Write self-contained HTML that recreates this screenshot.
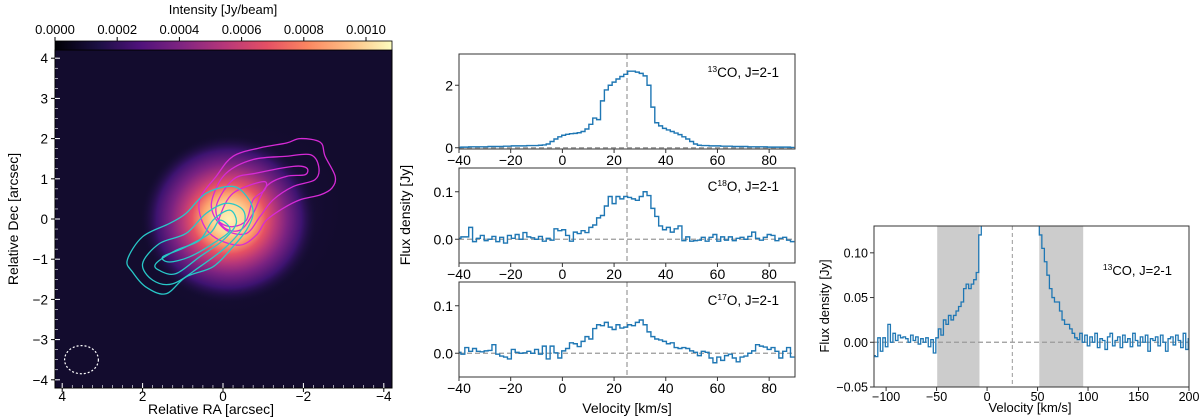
<!DOCTYPE html>
<html><head><meta charset="utf-8"><style>
body{margin:0;background:#fff;}
svg{display:block;font-family:"Liberation Sans","DejaVu Sans",sans-serif;}
</style></head><body>
<svg id="fig" width="1200" height="417" viewBox="0 0 1200 417" xmlns="http://www.w3.org/2000/svg">
<defs>
<linearGradient id="magma" x1="0" x2="1" y1="0" y2="0">
<stop offset="0" stop-color="#000004"/><stop offset="0.13" stop-color="#1c1044"/><stop offset="0.25" stop-color="#4f127b"/><stop offset="0.38" stop-color="#812581"/><stop offset="0.5" stop-color="#b5367a"/><stop offset="0.63" stop-color="#e55064"/><stop offset="0.75" stop-color="#fb8761"/><stop offset="0.88" stop-color="#fec287"/><stop offset="1" stop-color="#fcfdbf"/>
</linearGradient>
<radialGradient id="blob">
<stop offset="0" stop-color="#fdf2b8"/><stop offset="0.18" stop-color="#fdd798"/><stop offset="0.3" stop-color="#fca06c"/><stop offset="0.42" stop-color="#e55064"/><stop offset="0.53" stop-color="#b5367a"/><stop offset="0.66" stop-color="#7a2281"/><stop offset="0.82" stop-color="#3d1370"/><stop offset="1" stop-color="#140d33" stop-opacity="0"/>
</radialGradient>
<radialGradient id="halo">
<stop offset="0" stop-color="#3a1468" stop-opacity="0.8"/><stop offset="1" stop-color="#140d33" stop-opacity="0"/>
</radialGradient>
<clipPath id="clipImg"><rect x="55" y="50" width="337" height="338"/></clipPath>
</defs>
</svg>
<script>
// ===== data =====
const cbTicks=[0,0.0002,0.0004,0.0006,0.0008,0.0010];
const cbLabels=["0.0000","0.0002","0.0004","0.0006","0.0008","0.0010"];
const imgTicksX=[4,2,0,-2,-4];
const imgTicksY=[4,3,2,1,0,-1,-2,-3,-4];
const peakRA=-0.15, peakDec=0.0, peakRadius=2.2;
const beam=[3.52,-3.5,0.42,0.35];
const magenta1=[[0.58,0.48],[0.17,1.06],[-0.25,1.56],[-0.92,1.77],[-1.58,1.89],[-1.92,2.0],[-2.42,1.91],[-2.54,1.56],[-2.79,1.06],[-2.71,0.77],[-2.42,0.6],[-1.92,0.48],[-1.5,0.27],[-1.08,-0.03],[-0.83,-0.4],[-0.42,-0.65],[0.17,-0.48],[0.5,-0.11]];
const magenta2=[[0.25,0.56],[-0.08,1.14],[-0.75,1.48],[-1.58,1.56],[-2.17,1.6],[-2.38,1.31],[-2.29,0.98],[-1.75,0.81],[-1.25,0.48],[-0.92,0.06],[-0.58,-0.36],[-0.08,-0.28],[0.25,0.14]];
const magenta3=[[0.17,0.31],[-0.25,0.98],[-0.83,1.14],[-1.75,1.31],[-2.08,1.27],[-2.04,1.1],[-1.58,1.06],[-1.08,0.81],[-0.75,0.14],[-0.42,-0.28],[0,-0.19]];
const magenta4=[[0.08,0.06],[-0.25,0.64],[-1.0,0.93],[-1.04,0.73],[-0.75,0.48],[-0.58,-0.03],[-0.25,-0.19],[0.04,-0.11]];
const cyan1=[[2.38,-1.02],[2.0,-0.44],[1.33,-0.11],[0.92,0.14],[0.42,0.64],[-0.25,0.81],[-0.62,0.52],[-0.75,0.14],[-0.58,-0.28],[-0.25,-0.69],[0.25,-1.19],[0.92,-1.44],[1.42,-1.86],[1.92,-1.69],[2.25,-1.32]];
const cyan2=[[2.0,-1.11],[1.58,-0.61],[0.92,-0.36],[0.42,0.14],[-0.08,0.39],[-0.5,0.22],[-0.5,-0.19],[-0.08,-0.69],[0.58,-1.19],[1.25,-1.61],[1.75,-1.52]];
const cyan3=[[1.67,-1.11],[1.17,-0.78],[0.58,-0.53],[0.25,-0.03],[-0.17,0.22],[-0.33,-0.11],[0,-0.53],[0.58,-0.94],[1.17,-1.36],[1.58,-1.28]];
const cyan4=[[1.5,-0.94],[1.0,-0.73],[0.33,-0.36],[0.08,-0.03],[-0.17,-0.28],[0.25,-0.61],[0.83,-0.94],[1.33,-1.07]];

const specV0=-40, specDV=1.5;
const co13=[.01,.02,.02,.03,.03,.03,.03,.03,.04,.04,.04,.04,.05,.05,.06,.06,.06,.06,.07,.07,.07,.08,.09,.12,.2,.28,.35,.4,.43,.45,.46,.48,.52,.6,.75,.95,.9,1.5,1.85,2.0,2.1,2.2,2.28,2.35,2.45,2.45,2.42,2.38,2.3,2.0,1.3,.8,.7,.62,.57,.52,.47,.42,.35,.28,.2,.12,.08,.07,.07,.06,.06,.06,.05,.05,.05,.04,.04,.04,.04,.03,.03,.03,.03,.03,.02,.02,.02,.02,.02,.02,.01];
const c18o=[.002,.005,.005,.025,-.005,.002,.008,-.003,.0,.006,-.005,.004,-.008,.008,.002,.01,.0,.014,.005,.003,.0,.006,-.004,.002,-.002,.022,.018,.02,.008,-.004,.015,.012,.018,.014,.025,.03,.045,.05,.07,.09,.075,.09,.085,.09,.088,.085,.082,.09,.1,.092,.065,.048,.028,.02,.025,.015,.022,.028,-.003,.005,-.004,-.003,-.002,.004,-.004,.004,.01,-.004,.005,-.002,.005,-.003,.002,.004,.0,.006,.015,.002,-.002,.004,.01,.008,-.003,.002,.004,-.002,-.005];
const c17o=[.002,-.002,.012,.004,.01,.004,.003,.005,.006,.018,-.002,-.006,-.008,-.012,.008,.002,.0,.001,.004,.0,.008,-.002,.015,-.012,.015,.001,-.01,.005,.01,.022,.02,.014,.025,.035,.03,.052,.06,.058,.065,.055,.05,.06,.053,.055,.06,.058,.065,.07,.06,.045,.035,.03,.028,.025,.02,.022,.012,.01,.012,.01,.005,.002,-.005,.004,.002,-.01,-.02,-.008,-.015,-.005,-.002,-.01,-.018,-.008,-.006,.0,.005,.018,.015,.013,.008,.012,.004,-.01,.004,.012,-.008];

const wideV0=-112, wideDV=2.5;
const wide=[-.015,-.016,.005,-.01,.005,-.005,.02,.0,.01,.002,.008,.005,.006,.004,.0,.008,.002,.006,-.002,.004,.0,.005,-.005,.003,-.012,
 .005,.015,.008,.025,.02,.03,.025,.03,.035,.04,.045,.06,.065,.06,.065,.07,.078,.12,.3,.5,.6,.8,.9,1.0,1.2,1.4,1.8,2.0,2.2,2.3,2.45,2.42,2.38,2.1,1.2,.7,.6,.5,.42,.3,.18,
 .12,.105,.09,.075,.06,.05,.045,.045,.035,.025,.02,.02,.015,.01,.005,.003,.01,.0,
 .008,-.004,.006,.0,.01,-.006,.004,.002,-.008,.006,.01,-.004,.002,.006,-.006,.008,.0,.004,-.005,.01,.002,-.004,.006,.0,.008,-.01,.004,.002,.006,-.004,.008,.0,-.01,.004,.006,-.003,.008,.002,-.006,.01,-.008,.004];
const wideBands=[[-49.4,-7.5],[51.7,95.2]];
const specTicksX=[-40,-20,0,20,40,60,80];
const wideTicksX=[-100,-50,0,50,100,150,200];
const wideTicksY=[-0.05,0,0.05,0.10];
const wideTickLabelsY=["\u22120.05","0.00","0.05","0.10"];

// ===== drawing helpers =====
const NS="http://www.w3.org/2000/svg";
const svg=document.getElementById('fig');
function el(tag,attrs,parent,text){const e=document.createElementNS(NS,tag);for(const k in attrs)e.setAttribute(k,attrs[k]);if(text!==undefined)e.textContent=text;(parent||svg).appendChild(e);return e;}
function fmt(v){return (v<0?"\u2212":"")+Math.abs(v);}

// ===== image panel =====
const ix=ra=>223-ra*40.2, iy=dec=>219-dec*40.2;
const img=el('g',{'clip-path':'url(#clipImg)'});


el('rect',{x:55,y:50,width:337,height:338,fill:'#130c2e'},img);
el('ellipse',{cx:ix(peakRA)+10,cy:iy(peakDec)+6,rx:110,ry:95,fill:'url(#halo)',transform:`rotate(-30 ${ix(peakRA)} ${iy(peakDec)})`},img);
el('ellipse',{cx:ix(peakRA),cy:iy(peakDec),rx:peakRadius*40.2,ry:peakRadius*40.2*0.95,fill:'url(#blob)'},img);
function smoothPath(pts){const p=pts.map(q=>[ix(q[0]),iy(q[1])]);const n=p.length;let d=`M${p[0][0]},${p[0][1]}`;for(let i=0;i<n;i++){const p0=p[(i-1+n)%n],p1=p[i],p2=p[(i+1)%n],p3=p[(i+2)%n];d+=`C${p1[0]+(p2[0]-p0[0])/6},${p1[1]+(p2[1]-p0[1])/6} ${p2[0]-(p3[0]-p1[0])/6},${p2[1]-(p3[1]-p1[1])/6} ${p2[0]},${p2[1]}`;}return d+'Z';}
[[magenta1,'#d62ad6'],[magenta2,'#d62ad6'],[magenta3,'#d62ad6'],[magenta4,'#d62ad6'],[cyan1,'#28c8c8'],[cyan2,'#28c8c8'],[cyan3,'#28c8c8'],[cyan4,'#28c8c8']].forEach(([c,col],i)=>{
 const pth=el('path',{d:smoothPath(c),fill:'none',stroke:col,'stroke-width':1.3},img);
 
 
});
const bm=el('ellipse',{cx:ix(beam[0]),cy:iy(beam[1]),rx:beam[2]*40.2,ry:beam[3]*40.2,fill:'none',stroke:'#fff','stroke-width':1.2,'stroke-dasharray':'2,2'},img);


el('rect',{x:55,y:50,width:337,height:338,fill:'none',stroke:'#000','stroke-width':1});
imgTicksX.forEach(t=>{
 el('line',{x1:ix(t),x2:ix(t),y1:388,y2:383,stroke:'#fff'});
 el('line',{x1:ix(t),x2:ix(t),y1:388,y2:392,stroke:'#000'});
 const lx=el('text',{x:ix(t),y:401,'font-size':13.5,'text-anchor':'middle'},svg,fmt(t));
 
});
imgTicksY.forEach(t=>{
 el('line',{x1:55,x2:60,y1:iy(t),y2:iy(t),stroke:'#fff'});
 el('line',{x1:51,x2:55,y1:iy(t),y2:iy(t),stroke:'#000'});
 const ly=el('text',{x:48,y:iy(t)+5,'font-size':13.5,'text-anchor':'end'},svg,fmt(t));
 
});
for(let t=-4;t<=4;t+=0.25){el('line',{x1:ix(t),x2:ix(t),y1:388,y2:385,stroke:'#fff','stroke-width':0.6});el('line',{x1:55,x2:58,y1:iy(t),y2:iy(t),stroke:'#fff','stroke-width':0.6});}
let tt=el('text',{x:211,y:414,'font-size':14,'text-anchor':'middle'},svg,'Relative RA [arcsec]');

tt=el('text',{x:0,y:0,'font-size':14,'text-anchor':'middle',transform:'translate(18,219) rotate(-90)'},svg,'Relative Dec [arcsec]');

const cbx=v=>55+v*311000;
const cb=el('rect',{x:55,y:41,width:337,height:9,fill:'url(#magma)',stroke:'#000','stroke-width':0.8});

cbTicks.forEach((t,i)=>{el('line',{x1:cbx(t),x2:cbx(t),y1:41,y2:37,stroke:'#000'});
 const l=el('text',{x:cbx(t),y:34,'font-size':13,'text-anchor':'middle'},svg,cbLabels[i]);
 });
tt=el('text',{x:223,y:14,'font-size':13,'text-anchor':'middle'},svg,'Intensity [Jy/beam]');


// ===== spectra =====
function stepPath(vals,v0,dv,sx,sy){let d='';for(let i=0;i<vals.length;i++){const v=v0+i*dv;const a=sx(v-dv/2),b=sx(v+dv/2),y=sy(vals[i]);d+=(i===0?`M${a},${y}`:`L${a},${y}`)+`L${b},${y}`;}return d;}
function specPanel(name,top,bottom,yMin,yMax,vals,yTicks,yLabels,iso){
 const L=459,R=795;const sx=v=>L+(v+40)/130*(R-L);const sy=y=>bottom-(y-yMin)/(yMax-yMin)*(bottom-top);
 const g=el('g',{});
 const cid='c'+name;const cp=el('clipPath',{id:cid},g);el('rect',{x:L,y:top,width:R-L,height:bottom-top},cp);
 el('line',{x1:L,x2:R,y1:sy(0),y2:sy(0),stroke:'#999','stroke-dasharray':'5,3','stroke-width':1.2},g);
 el('line',{x1:sx(25),x2:sx(25),y1:top,y2:bottom,stroke:'#999','stroke-dasharray':'5,3','stroke-width':1.2},g);
 const p=el('path',{d:stepPath(vals,specV0,specDV,sx,sy),fill:'none',stroke:'#1f77b4','stroke-width':1.4,'clip-path':`url(#${cid})`},g);
 
 el('rect',{x:L,y:top,width:R-L,height:bottom-top,fill:'none',stroke:'#333','stroke-width':1},g);
 specTicksX.forEach(t=>{el('line',{x1:sx(t),x2:sx(t),y1:bottom,y2:bottom+4,stroke:'#333'},g);
  const l=el('text',{x:sx(t),y:bottom+16,'font-size':14,'text-anchor':'middle'},g,fmt(t));});
 yTicks.forEach((t,i)=>{el('line',{x1:L-4,x2:L,y1:sy(t),y2:sy(t),stroke:'#333'},g);
  const l=el('text',{x:L-6,y:sy(t)+5,'font-size':14,'text-anchor':'end'},g,yLabels[i]);});
 const t=el('text',{x:779,y:top+23,'font-size':13.5,'text-anchor':'end'},g);
 
 if(iso[0]){el('tspan',{'font-size':8.5,dy:-5},t,iso[0]);el('tspan',{dy:5},t,iso[1]);}
 else{el('tspan',{},t,'C');el('tspan',{'font-size':8.5,dy:-5},t,iso[1]);el('tspan',{dy:5},t,iso[2]);}
}
specPanel('spectrum-13co',54,149,-0.04,3.0,co13,[0,2],["0","2"],['13','CO, J=2-1']);
specPanel('spectrum-c18o',168,263,-0.05,0.15,c18o,[0,0.1],["0.0","0.1"],[null,'18','O, J=2-1']);
specPanel('spectrum-c17o',282,377,-0.05,0.15,c17o,[0,0.1],["0.0","0.1"],[null,'17','O, J=2-1']);
tt=el('text',{x:627,y:413,'font-size':14,'text-anchor':'middle'},svg,'Velocity [km/s]');

tt=el('text',{x:0,y:0,'font-size':14,'text-anchor':'middle',transform:'translate(410,215) rotate(-90)'},svg,'Flux density [Jy]');


// ===== wide panel =====
(function(){
 const L=874,R=1189,T=226,B=387;const sx=v=>L+(v+112)/312*(R-L);const sy=y=>B-(y+0.05)/0.18*(B-T);
 const g=el('g',{});
 const cp=el('clipPath',{id:'cw'},g);el('rect',{x:L,y:T,width:R-L,height:B-T},cp);
 wideBands.forEach(b=>{const r=el('rect',{x:sx(b[0]),y:T,width:sx(b[1])-sx(b[0]),height:B-T,fill:'#cccccc'},g);});
 el('line',{x1:L,x2:R,y1:sy(0),y2:sy(0),stroke:'#999','stroke-dasharray':'5,3','stroke-width':1.2},g);
 el('line',{x1:sx(25),x2:sx(25),y1:T,y2:B,stroke:'#999','stroke-dasharray':'4,3','stroke-width':1},g);
 const p=el('path',{d:stepPath(wide,wideV0,wideDV,sx,sy),fill:'none',stroke:'#1f77b4','stroke-width':1.3,'clip-path':'url(#cw)'},g);
 
 el('rect',{x:L,y:T,width:R-L,height:B-T,fill:'none',stroke:'#333','stroke-width':1},g);
 wideTicksX.forEach(t=>{el('line',{x1:sx(t),x2:sx(t),y1:B,y2:B+4,stroke:'#333'},g);
  const l=el('text',{x:sx(t),y:B+14,'font-size':12.5,'text-anchor':'middle'},g,fmt(t));});
 wideTicksY.forEach((t,i)=>{el('line',{x1:L-4,x2:L,y1:sy(t),y2:sy(t),stroke:'#333'},g);
  const l=el('text',{x:L-6,y:sy(t)+4.5,'font-size':12.5,'text-anchor':'end'},g,wideTickLabelsY[i]);});
 const t=el('text',{x:1172,y:275,'font-size':13,'text-anchor':'end'},g);
 
 el('tspan',{'font-size':8.5,dy:-5},t,'13');el('tspan',{dy:5},t,'CO, J=2-1');
 let a=el('text',{x:1030,y:412,'font-size':13,'text-anchor':'middle'},g,'Velocity [km/s]');
 a=el('text',{x:0,y:0,'font-size':13,'text-anchor':'middle',transform:'translate(829,306) rotate(-90)'},g,'Flux density [Jy]');
})();
</script>
</body></html>
